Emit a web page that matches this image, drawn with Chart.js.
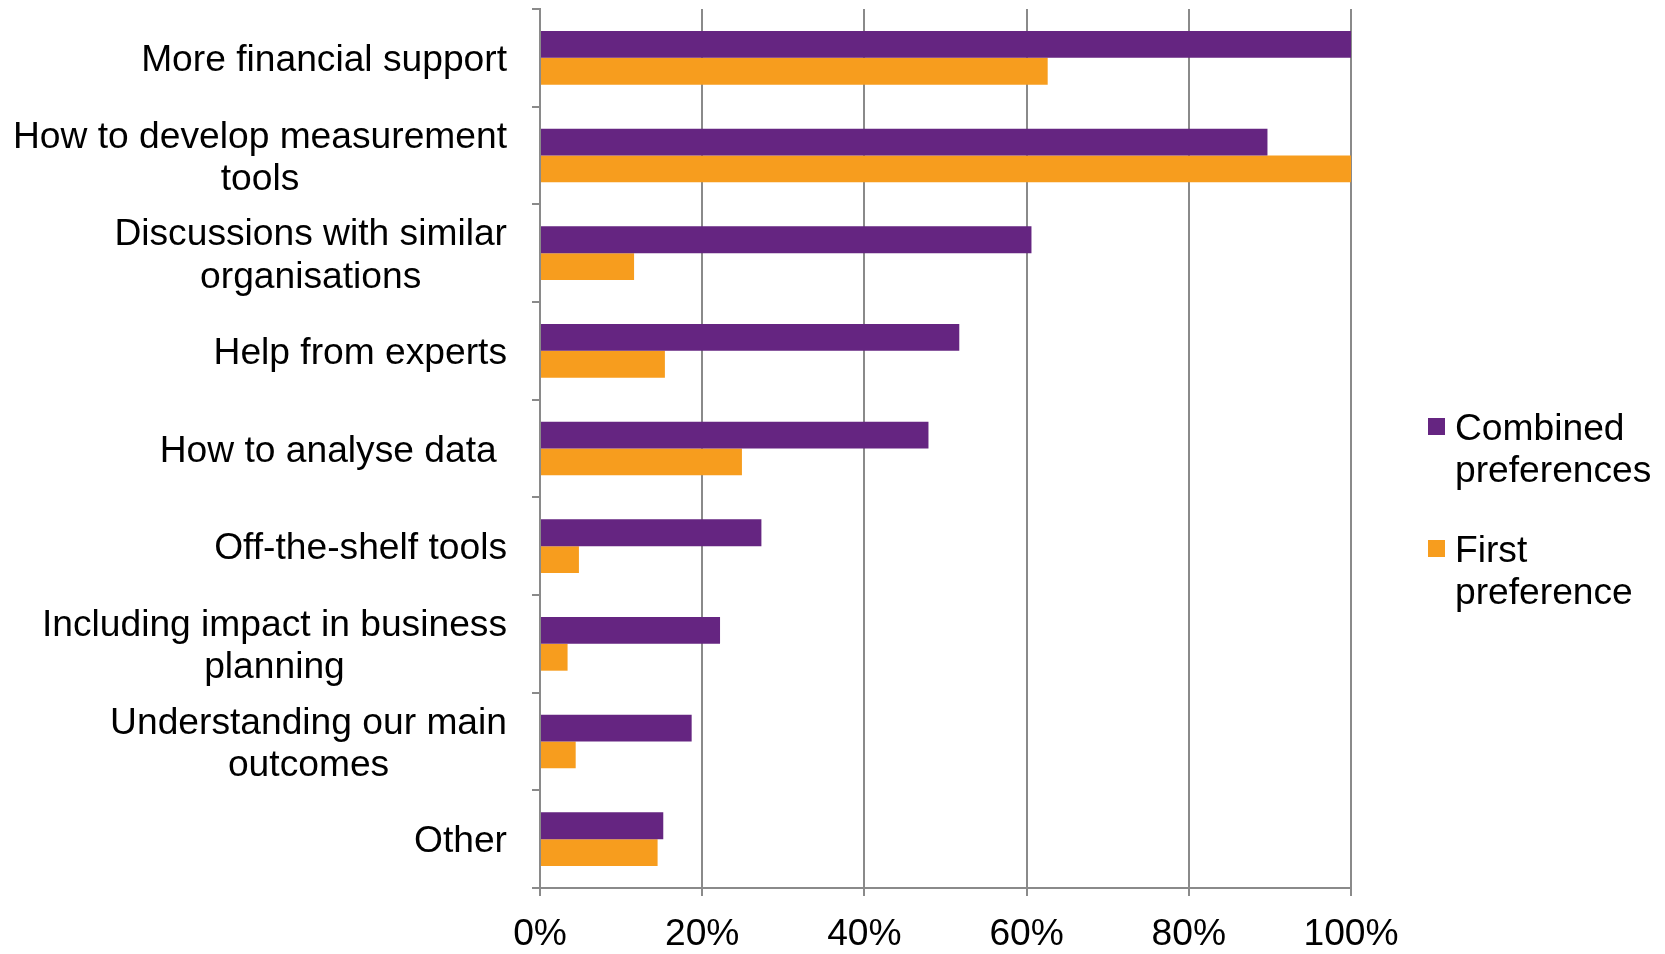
<!DOCTYPE html>
<html>
<head>
<meta charset="utf-8">
<script src="https://cdn.jsdelivr.net/npm/chart.js@4.4.1/dist/chart.umd.min.js"></script>
<style>
  html, body { margin: 0; padding: 0; background: #fff; }
  #wrap { width: 1665px; height: 954px; }
</style>
</head>
<body>
<div id="wrap"><canvas id="prefChart" width="1665" height="954"></canvas></div>
<script>
// categories (multi-line labels), top to bottom
const categories = [
  ['More financial support'],
  ['How to develop measurement', 'tools'],
  ['Discussions with similar', 'organisations'],
  ['Help from experts'],
  ['How to analyse data '],
  ['Off-the-shelf tools'],
  ['Including impact in business', 'planning'],
  ['Understanding our main', 'outcomes'],
  ['Other']
];
const combinedPrefs = [100, 89.7, 60.6, 51.7, 47.9, 27.3, 22.2, 18.7, 15.2];
const firstPref = [62.6, 100, 11.6, 15.4, 24.9, 4.8, 3.4, 4.4, 14.5];
const seriesNames = [['Combined', 'preferences'], ['First', 'preference']];
const seriesColors = ['#652581', '#F79D1E'];
const tickValues = [0, 20, 40, 60, 80, 100];

const FONT_FAMILY = '"Liberation Sans", Arial, sans-serif';
const FONT_SIZE = 37.2;
const GRID = '#8a8a8a';

// category labels: block right-aligned, lines centred inside the block
const sideLabels = {
  id: 'sideLabels',
  afterDraw(chart) {
    const ctx = chart.ctx;
    const yScale = chart.scales.y;
    const right = chart.chartArea.left - 33;
    ctx.save();
    ctx.font = FONT_SIZE + 'px ' + FONT_FAMILY;
    ctx.fillStyle = '#000';
    ctx.textAlign = 'center';
    ctx.textBaseline = 'middle';
    chart.data.labels.forEach((lines, i) => {
      const w = Math.max(...lines.map(l => ctx.measureText(l).width));
      const cx = right - w / 2;
      const cy = yScale.getPixelForValue(i) + 3;
      lines.forEach((l, j) => {
        ctx.fillText(l, cx, cy + (j - (lines.length - 1) / 2) * 42.5);
      });
    });
    ctx.restore();
  }
};

// legend on the right with wrapped names
const sideLegend = {
  id: 'sideLegend',
  afterDraw(chart) {
    const ctx = chart.ctx;
    const x0 = chart.chartArea.right + 77;
    const rows = [427, 549];
    ctx.save();
    ctx.font = FONT_SIZE + 'px ' + FONT_FAMILY;
    ctx.textAlign = 'left';
    ctx.textBaseline = 'middle';
    seriesNames.forEach((lines, i) => {
      ctx.fillStyle = seriesColors[i];
      ctx.fillRect(x0, rows[i] - 9, 17, 17);
      ctx.fillStyle = '#000';
      lines.forEach((l, j) => ctx.fillText(l, x0 + 27, rows[i] + 3 + j * 42));
    });
    ctx.restore();
  }
};

const ctx = document.getElementById('prefChart').getContext('2d');
new Chart(ctx, {
  type: 'bar',
  data: {
    labels: categories,
    datasets: [
      {
        label: seriesNames[0].join(' '),
        data: combinedPrefs,
        backgroundColor: seriesColors[0],
        categoryPercentage: 0.55,
        barPercentage: 1
      },
      {
        label: seriesNames[1].join(' '),
        data: firstPref,
        backgroundColor: seriesColors[1],
        categoryPercentage: 0.55,
        barPercentage: 1
      }
    ]
  },
  options: {
    indexAxis: 'y',
    responsive: false,
    animation: false,
    devicePixelRatio: 1,
    layout: { padding: { top: 9, right: 314, left: 0, bottom: 0 } },
    plugins: {
      legend: { display: false },
      tooltip: { enabled: false }
    },
    scales: {
      x: {
        min: 0,
        max: 100,
        afterBuildTicks: s => { s.ticks = tickValues.map(v => ({ value: v })); },
        afterFit: s => { s.height = 66; },
        grid: { color: GRID, lineWidth: 2, tickLength: 8 },
        border: { color: GRID, width: 2 },
        ticks: {
          font: { family: FONT_FAMILY, size: FONT_SIZE },
          color: '#000',
          padding: 16,
          maxRotation: 0,
          callback: v => v + '%'
        }
      },
      y: {
        afterFit: s => { s.width = 540; },
        grid: { display: true, drawOnChartArea: false, color: GRID, lineWidth: 2, tickLength: 8, offset: true },
        border: { color: GRID, width: 2 },
        ticks: { display: false }
      }
    }
  },
  plugins: [sideLabels, sideLegend]
});
</script>
</body>
</html>
